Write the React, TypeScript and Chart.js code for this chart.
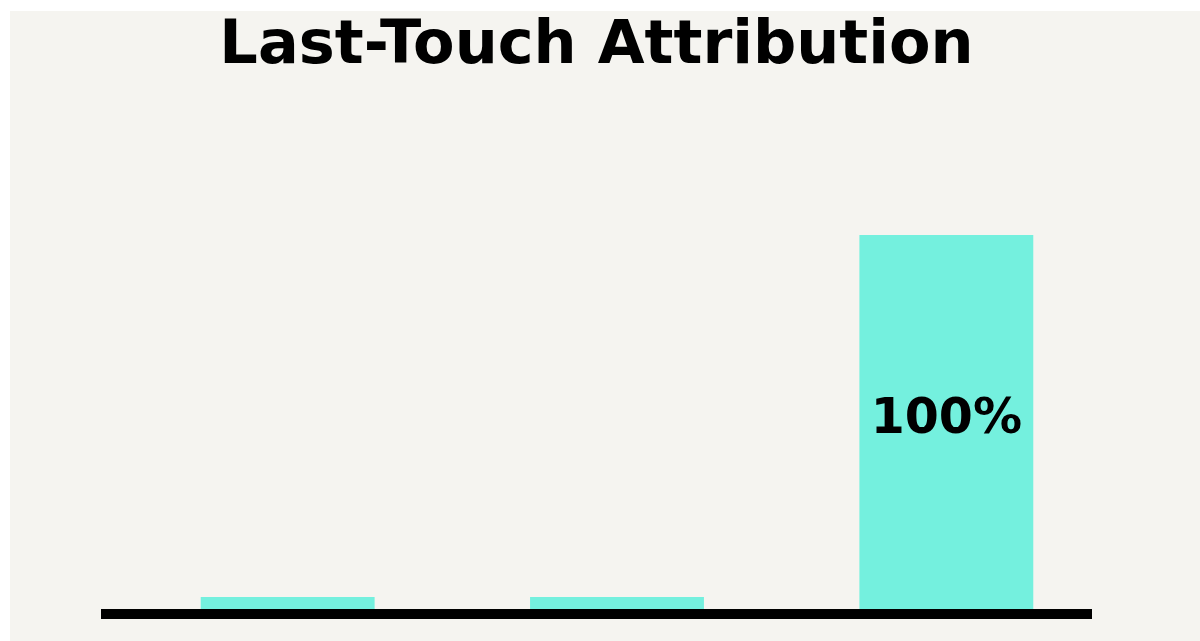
import React, { useEffect, useRef } from "react";
import { Chart, registerables } from "chart.js";

Chart.register(...registerables);

const categories = ["First Touch", "Middle Touch", "Last Touch"];
const attribution = [3.2, 3.2, 100];
const valueLabels = ["", "", "100%"];
const titleText = "Last-Touch Attribution";

const BAR_COLOR = "#74F0DE";
const BG = "#F5F4F0";

const titlePlugin = {
  id: "customTitle",
  afterDraw(chart: any) {
    const { ctx } = chart;
    ctx.save();
    ctx.fillStyle = "#000000";
    ctx.font = "bold 60.5px 'DejaVu Sans'";
    ctx.textAlign = "center";
    ctx.textBaseline = "alphabetic";
    ctx.fillText(titleText, chart.width / 2 - 8.5, 52);
    ctx.restore();
  },
};

const baselinePlugin = {
  id: "baseline",
  afterDatasetsDraw(chart: any) {
    const { ctx, chartArea } = chart;
    ctx.save();
    ctx.strokeStyle = "#000000";
    ctx.lineWidth = 10;
    ctx.beginPath();
    ctx.moveTo(chartArea.left - 22, chartArea.bottom + 5);
    ctx.lineTo(chartArea.right - 19, chartArea.bottom + 5);
    ctx.stroke();
    ctx.restore();
  },
};

const valueLabelPlugin = {
  id: "valueLabels",
  afterDatasetsDraw(chart: any) {
    const { ctx } = chart;
    const meta = chart.getDatasetMeta(0);
    ctx.save();
    ctx.fillStyle = "#000000";
    ctx.font = "bold 49px 'DejaVu Sans'";
    ctx.textAlign = "center";
    ctx.textBaseline = "middle";
    meta.data.forEach((bar: any, i: number) => {
      const txt = valueLabels[i];
      if (!txt) return;
      const y = (bar.y + bar.base) / 2 - 2;
      ctx.fillText(txt, bar.x, y);
    });
    ctx.restore();
  },
};

export default function App() {
  const canvasRef = useRef<HTMLCanvasElement | null>(null);

  useEffect(() => {
    if (!canvasRef.current) return;
    const chart = new Chart(canvasRef.current, {
      type: "bar",
      data: {
        labels: categories,
        datasets: [
          {
            data: attribution,
            backgroundColor: BAR_COLOR,
            borderWidth: 0,
            categoryPercentage: 1,
            barPercentage: 0.528,
          },
        ],
      },
      options: {
        animation: false,
        responsive: true,
        maintainAspectRatio: false,
        layout: { padding: { top: 224, bottom: 32, left: 113, right: 89 } },
        plugins: {
          legend: { display: false },
          tooltip: { enabled: false },
          title: { display: false },
        },
        scales: {
          x: { display: false },
          y: { display: false, min: 0, max: 100 },
        },
      },
      plugins: [titlePlugin, baselinePlugin, valueLabelPlugin],
    });
    return () => chart.destroy();
  }, []);

  return (
    <div
      style={{
        position: "absolute",
        left: 10,
        top: 11,
        width: 1190,
        height: 630,
        background: BG,
      }}
    >
      <canvas ref={canvasRef} />
    </div>
  );
}
